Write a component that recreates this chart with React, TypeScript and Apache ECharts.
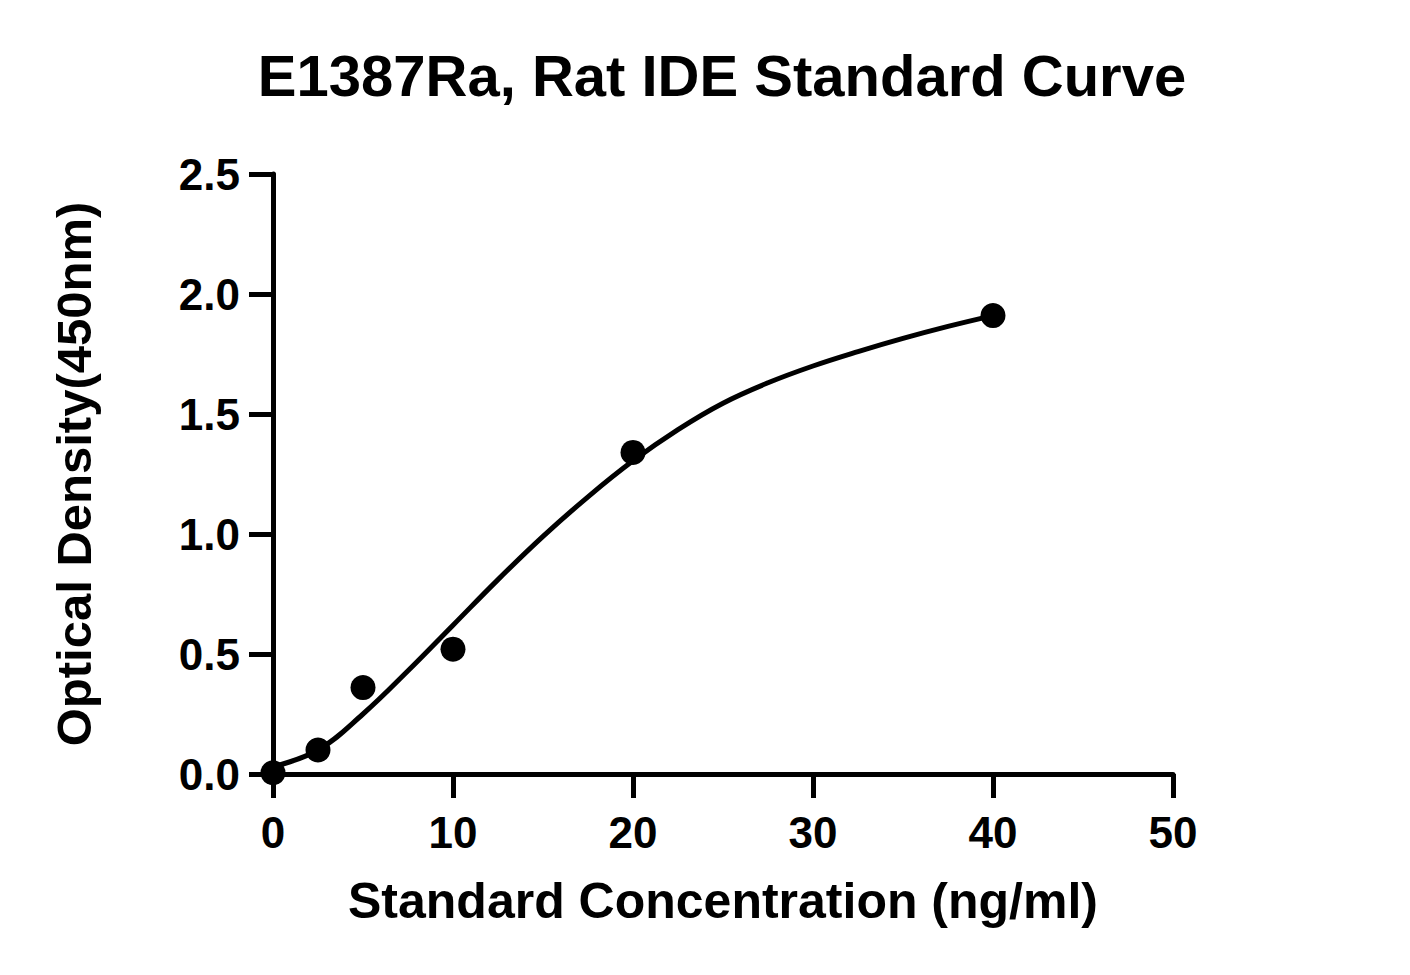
import React, { useEffect, useRef } from "react";
import * as echarts from "echarts";

// measured standards
const concentrations = [0, 2.5, 5, 10, 20, 40];
const odValues = [0.005, 0.1, 0.36, 0.52, 1.34, 1.91];

// fitted curve
const curveX = [0, 2.5, 5, 7.5, 10, 12.5, 15, 17.5, 20, 22.5, 25, 27.5, 30, 32.5, 35, 37.5, 40];
const curveY = [0.03, 0.1, 0.25, 0.43, 0.62, 0.81, 0.99, 1.155, 1.305, 1.435, 1.545, 1.63, 1.7, 1.76, 1.815, 1.865, 1.91];

const FONT = "'Liberation Sans', Arial, sans-serif";

const App = () => {
  const chartRef = useRef<HTMLDivElement>(null);

  useEffect(() => {
    const chartDom = chartRef.current;
    if (!chartDom) return;
    const myChart = echarts.init(chartDom, null, { renderer: "svg" });

    const axisText = { color: "#000", fontFamily: FONT, fontWeight: "bold" as const };

    myChart.setOption({
      animation: false,
      backgroundColor: "#fff",
      title: {
        text: "E1387Ra, Rat IDE Standard Curve",
        left: 717,
        top: 41,
        textAlign: "center",
        textStyle: { ...axisText, fontSize: 58 },
      },
      grid: { left: 273, right: 237, top: 174, bottom: 201, containLabel: false },
      xAxis: {
        type: "value",
        min: 0,
        max: 50,
        interval: 10,
        name: "Standard Concentration (ng/ml)",
        nameLocation: "middle",
        nameGap: 102,
        nameTextStyle: { ...axisText, fontSize: 50 },
        splitLine: { show: false },
        axisLine: { show: true, onZero: false, lineStyle: { color: "#000", width: 5 } },
        axisTick: { show: true, length: 24, lineStyle: { color: "#000", width: 5 } },
        axisLabel: { ...axisText, fontSize: 44, margin: 36 },
      },
      yAxis: {
        type: "value",
        min: 0,
        max: 2.5,
        interval: 0.5,
        name: "Optical Density(450nm)",
        nameLocation: "middle",
        nameGap: 175,
        nameTextStyle: { ...axisText, fontSize: 49 },
        splitLine: { show: false },
        axisLine: { show: true, lineStyle: { color: "#000", width: 5 } },
        axisTick: { show: true, length: 24, lineStyle: { color: "#000", width: 5 } },
        axisLabel: {
          ...axisText,
          fontSize: 44,
          margin: 33,
          formatter: (v: number) => v.toFixed(1),
        },
      },
      series: [
        {
          name: "Fit",
          type: "line",
          data: curveX.map((x, i) => [x, curveY[i]]),
          smooth: 0.4,
          showSymbol: false,
          symbol: "none",
          lineStyle: { color: "#000", width: 5 },
          z: 2,
        },
        {
          name: "Standards",
          type: "scatter",
          data: concentrations.map((x, i) => [x, odValues[i]]),
          symbol: "circle",
          symbolSize: 25,
          itemStyle: { color: "#000", opacity: 1 },
          z: 3,
        },
      ],
    });

    const onResize = () => myChart.resize();
    window.addEventListener("resize", onResize, false);

    return () => {
      window.removeEventListener("resize", onResize, false);
      myChart.dispose();
    };
  }, []);

  return (
    <div
      ref={chartRef}
      style={{ position: "fixed", left: 0, top: 0, width: 1410, height: 975 }}
    ></div>
  );
};

export default App;
